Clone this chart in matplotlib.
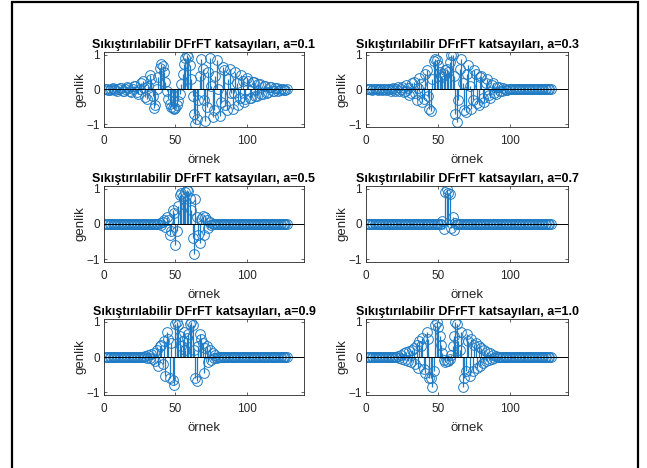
import numpy as np
import matplotlib
matplotlib.use("Agg")
import matplotlib.pyplot as plt
from matplotlib.patches import Rectangle


N_SAMPLES = 128
ORDERS = ["0.1", "0.3", "0.5", "0.7", "0.9", "1.0"]

COEF_01 = [
    0.02, 0.01, -0.01, -0.02, 0.01, 0.03, 0.02, -0.02, -0.03, 0.01, 0.04, 0.03,
    -0.03, -0.05, 0.0, 0.06, 0.05, -0.04, -0.08, 0.0, 0.1, 0.09, -0.06, -0.12,
    0.02, 0.2, 0.25, 0.05, -0.22, -0.28, 0.1, 0.42, 0.3, -0.2, -0.52, -0.45,
    0.0, 0.35, 0.62, 0.72, 0.68, 0.5, 0.22, -0.05, -0.28, -0.42, -0.5, -0.54,
    -0.55, -0.52, -0.45, -0.32, -0.12, 0.15, 0.45, 0.72, 0.9, 1.0, 0.95, 0.7,
    0.3, -0.2, -0.7, -0.98, -0.85, -0.3, 0.4, 0.88, 0.6, -0.3, -0.92, -0.5,
    0.5, 0.9, 0.1, -0.8, -0.6, 0.4, 0.85, 0.0, -0.75, -0.35, 0.65, 0.55,
    -0.45, -0.6, 0.3, 0.6, -0.1, -0.55, -0.1, 0.5, 0.2, -0.45, -0.25, 0.42,
    0.25, -0.35, -0.28, 0.32, 0.25, -0.25, -0.25, 0.22, 0.22, -0.18, -0.2, 0.16,
    0.16, -0.13, -0.14, 0.11, 0.1, -0.09, -0.08, 0.07, 0.06, -0.05, -0.05, 0.04,
    0.03, -0.03, -0.02, 0.02, 0.02, -0.01, -0.01, 0.0,
]

COEF_03 = [
    0.0, 0.01, 0.0, -0.01, 0.0, 0.01, 0.0, -0.01, 0.01, 0.0, -0.01, 0.01,
    0.0, -0.02, 0.02, 0.01, -0.03, 0.02, 0.03, -0.04, 0.02, 0.06, -0.05, 0.0,
    0.08, -0.06, -0.05, 0.12, 0.05, -0.15, -0.1, 0.2, 0.22, -0.1, -0.3, 0.05,
    0.32, 0.15, -0.35, -0.28, 0.45, 0.55, -0.2, -0.55, -0.62, 0.3, 0.82, 0.88,
    0.85, 0.7, 0.5, 0.38, 0.35, 0.45, 0.55, 0.6, 0.5, 0.8, 0.98, 1.0,
    0.4, -0.7, -0.95, -0.3, 0.6, 0.88, 0.2, -0.6, -0.65, 0.45, 0.7, 0.1,
    -0.55, -0.3, 0.55, 0.45, -0.4, -0.45, 0.35, 0.4, -0.25, -0.35, 0.2, 0.3,
    -0.15, -0.25, 0.12, 0.18, -0.1, -0.12, 0.07, 0.08, -0.04, -0.05, 0.03, 0.02,
    -0.02, -0.01, 0.01, 0.01,
] + [0.0] * 28

COEF_05 = [0.0] * 38 + [
    0.02, -0.03, 0.05, 0.1, -0.08, 0.2, 0.1, -0.3, -0.2, 0.4, 0.3, -0.6,
    -0.2, 0.5, 0.82, 0.88, 0.8, 0.7, 0.9, 0.98, 0.95, 0.75, 0.4, -0.4,
    -0.85, 0.7, 0.2, -0.3, -0.55, 0.15, 0.22, -0.3, 0.2, 0.12, -0.1, 0.05,
    -0.02,
] + [0.0] * 53

COEF_07 = [0.0] * 52 + [
    0.08, -0.15, 0.9, 1.0, 0.88, 0.85, -0.1, 0.2, -0.18, 0.03,
] + [0.0] * 66

COEF_09 = [0.0] * 28 + [
    0.02, -0.03, 0.05, -0.04, 0.08, -0.06, 0.1, -0.1, 0.2, -0.25, 0.3, 0.35,
    -0.2, 0.45, -0.55, 0.7, 0.5, -0.6, 0.4, -0.65, -0.8, 0.95, 1.0, 0.9,
    0.6, 0.3, 0.45, 0.7, 0.2, 0.55, 0.65, 0.95, 1.0, 0.9, 0.2, -0.6,
    -0.68, 0.3, 0.65, 0.5, 0.4, -0.45, 0.25, 0.3, -0.15, 0.2, -0.08, 0.1,
    -0.04, 0.05, -0.02, 0.01,
] + [0.0] * 48

COEF_10 = [0.0] * 21 + [
    0.02, -0.03, 0.05, -0.05, 0.1, -0.08, 0.15, -0.1, 0.18, -0.15, 0.2, 0.25,
    -0.2, 0.35, -0.3, 0.45, 0.3, 0.55, -0.35, -0.45, 0.7, 0.5, -0.6, -0.6,
    -0.85, -0.4, 0.9, 1.0, 0.85, 0.6, 0.35, 0.1, -0.08, -0.15, -0.12, -0.1,
    -0.05, 0.05, 0.3, 0.6, 1.0, 0.95, 0.45, 0.2, 0.7, -0.85, -0.6, -0.4,
    0.65, 0.45, -0.55, 0.5, -0.4, 0.35, 0.4, -0.3, 0.3, -0.25, 0.25, -0.18,
    0.2, -0.12, 0.15, -0.08, 0.1, -0.05, 0.06, -0.03, 0.02,
] + [0.0] * 38

COEFS = [COEF_01, COEF_03, COEF_05, COEF_07, COEF_09, COEF_10]

X_TICKS = [0, 50, 100]
Y_TICKS = [-1, 0, 1]

STEM_COLOR = "#1f7bc4"
AXIS_COLOR = "#262626"
FONT = ["Liberation Sans", "DejaVu Sans"]

# axes boxes in pixels: (left, right) and (top, bottom)
COL_X = [(104, 304), (366, 568)]
ROW_Y = [(52, 127), (186, 262), (319, 395)]
W, H = 647, 468


def draw(output="out.png"):
    plt.rcParams["font.family"] = FONT
    fig = plt.figure(figsize=(W / 100, H / 100), dpi=100)
    fig.patch.set_facecolor("white")

    x = np.arange(1, N_SAMPLES + 1)

    for i, (order, values) in enumerate(zip(ORDERS, COEFS)):
        row, col = divmod(i, 2)
        x0, x1 = COL_X[col]
        y0, y1 = ROW_Y[row]
        ax = fig.add_axes([x0 / W, 1 - y1 / H, (x1 - x0) / W, (y1 - y0) / H])

        markers, stems, base = ax.stem(x, np.asarray(values), basefmt=" ")
        markers.set_marker("o")
        markers.set_markerfacecolor("none")
        markers.set_markeredgecolor(STEM_COLOR)
        markers.set_markersize(7)
        markers.set_markeredgewidth(0.7)
        stems.set_color(STEM_COLOR)
        stems.set_linewidth(0.9)
        base.set_visible(False)
        ax.axhline(0, color="black", linewidth=0.7, zorder=3)

        ax.set_xlim(0, 140)
        ax.set_ylim(-1.08, 1.08)
        ax.set_xticks(X_TICKS)
        ax.set_yticks(Y_TICKS)
        ax.tick_params(direction="in", top=True, right=True, length=2.5,
                       width=0.5, colors=AXIS_COLOR, labelsize=8.5)
        ax.tick_params(axis="x", pad=5.5)
        ax.tick_params(axis="y", pad=3)
        for spine in ax.spines.values():
            spine.set_color(AXIS_COLOR)
            spine.set_linewidth(0.6)

        ax.set_title(f"Sıkıştırılabilir DFrFT katsayıları, a={order}",
                     fontsize=9, fontweight="bold", pad=3)
        ax.set_xlabel("örnek", fontsize=9.5, color=AXIS_COLOR, labelpad=5)
        ax.set_ylabel("genlik", fontsize=9.5, color=AXIS_COLOR, labelpad=0)

    # frame around the figure window
    fig.add_artist(Rectangle((12 / W, -0.02), (638 - 12) / W, 1.02 - 2 / H,
                             transform=fig.transFigure, fill=False,
                             edgecolor="black", linewidth=1.6, clip_on=False))

    fig.savefig(output, dpi=100, facecolor="white")
    plt.close(fig)


if __name__ == "__main__":
    draw()
